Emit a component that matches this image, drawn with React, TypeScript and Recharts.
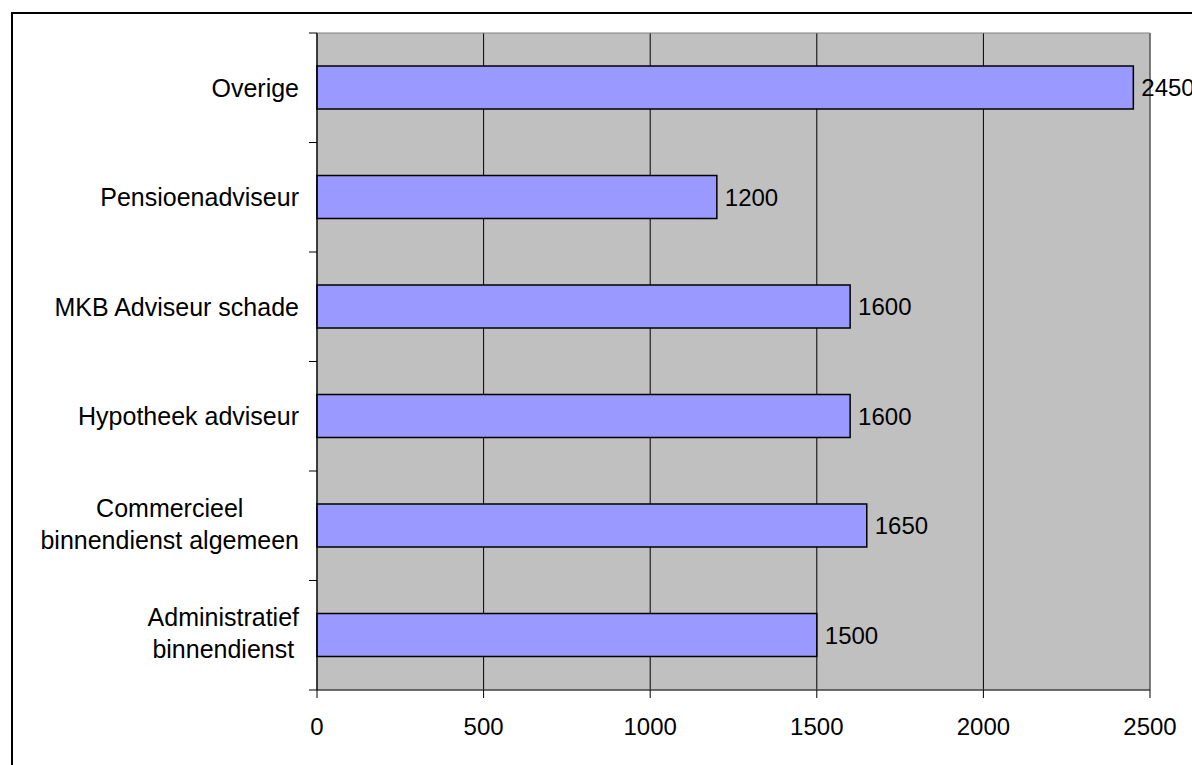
import React from 'react';
import {
  BarChart,
  Bar,
  XAxis,
  YAxis,
  CartesianGrid,
  ReferenceArea,
  LabelList,
} from 'recharts';

const categories = [
  'Overige',
  'Pensioenadviseur',
  'MKB Adviseur schade',
  'Hypotheek adviseur',
  'Commercieel\nbinnendienst algemeen',
  'Administratief\nbinnendienst',
];
const values = [2450, 1200, 1600, 1600, 1650, 1500];
const xTicks = [0, 500, 1000, 1500, 2000, 2500];

const data = categories.map((name, i) => ({ name, value: values[i] }));

const W = 1192;
const H = 765;
const PLOT_TOP = 33;
const PLOT_BOTTOM = 690;
const PLOT_LEFT = 317;
const PLOT_RIGHT = 1150;
const FONT = '"Liberation Sans", Arial, sans-serif';
const CAT_SIZE = 25;
const LINE_GAP = 32;

function textWidth(text: string, size: number) {
  const ctx = document.createElement('canvas').getContext('2d');
  if (!ctx) return text.length * size * 0.5;
  ctx.font = `${size}px "Liberation Sans", Arial, sans-serif`;
  return ctx.measureText(text).width;
}

function CategoryTick(props: any) {
  const { y, payload, index } = props;
  const lines = String(payload.value).split('\n');
  const band = (PLOT_BOTTOM - PLOT_TOP) / categories.length;
  const right = 299;
  const tickTop = y - band / 2;
  const isLast = index === categories.length - 1;

  let textEl;
  if (lines.length === 1) {
    textEl = (
      <text x={right} y={y + 9} textAnchor="end" fontSize={CAT_SIZE} fontFamily={FONT} fill="#000">
        {lines[0]}
      </text>
    );
  } else {
    const maxW = Math.max(...lines.map((l) => textWidth(l, CAT_SIZE)));
    const cx = right - maxW / 2;
    const first = y - 2 + 9 - ((lines.length - 1) * LINE_GAP) / 2;
    textEl = (
      <text textAnchor="middle" fontSize={CAT_SIZE} fontFamily={FONT} fill="#000">
        {lines.map((l, i) => (
          <tspan key={i} x={cx} y={first + i * LINE_GAP}>
            {l}
          </tspan>
        ))}
      </text>
    );
  }

  return (
    <g>
      <line x1={PLOT_LEFT - 8} x2={PLOT_LEFT} y1={tickTop} y2={tickTop} stroke="#000" />
      {isLast && (
        <line x1={PLOT_LEFT - 8} x2={PLOT_LEFT} y1={y + band / 2} y2={y + band / 2} stroke="#000" />
      )}
      {textEl}
    </g>
  );
}

export default function App() {
  return (
    <div style={{ position: 'absolute', left: 0, top: 0, width: W, height: H, overflow: 'hidden', background: '#fff' }}>
      <div
        style={{
          position: 'absolute',
          left: 11,
          top: 12,
          width: 1300,
          height: 900,
          border: '2px solid #000',
          boxSizing: 'border-box',
        }}
      />
      <div style={{ position: 'absolute', left: 0, top: 0 }}>
        <BarChart
          width={W}
          height={H}
          layout="vertical"
          data={data}
          margin={{ top: PLOT_TOP, right: W - PLOT_RIGHT, left: 0, bottom: 15 }}
        >
          <CartesianGrid horizontal={false} stroke="#000" fill="#C0C0C0" fillOpacity={1} />
          <ReferenceArea x1={0} x2={2500} fill="none" stroke="#808080" strokeWidth={1} />
          <XAxis
            type="number"
            domain={[0, 2500]}
            ticks={xTicks}
            height={H - 15 - PLOT_BOTTOM}
            axisLine={{ stroke: '#222' }}
            tickLine={{ stroke: '#000' }}
            tickSize={8}
            tickMargin={20}
            tick={{ fontSize: 24, fill: '#000', fontFamily: FONT }}
          />
          <YAxis
            type="category"
            dataKey="name"
            width={PLOT_LEFT}
            interval={0}
            axisLine={{ stroke: '#000' }}
            tickLine={false}
            tick={(p: any) => <CategoryTick {...p} />}
          />
          <Bar
            dataKey="value"
            fill="#9999FF"
            stroke="#000"
            strokeWidth={1.5}
            barSize={43}
            isAnimationActive={false}
          >
            <LabelList
              dataKey="value"
              position="right"
              offset={8}
              fill="#000"
              fontSize={24}
              fontFamily={FONT}
            />
          </Bar>
        </BarChart>
      </div>
    </div>
  );
}
